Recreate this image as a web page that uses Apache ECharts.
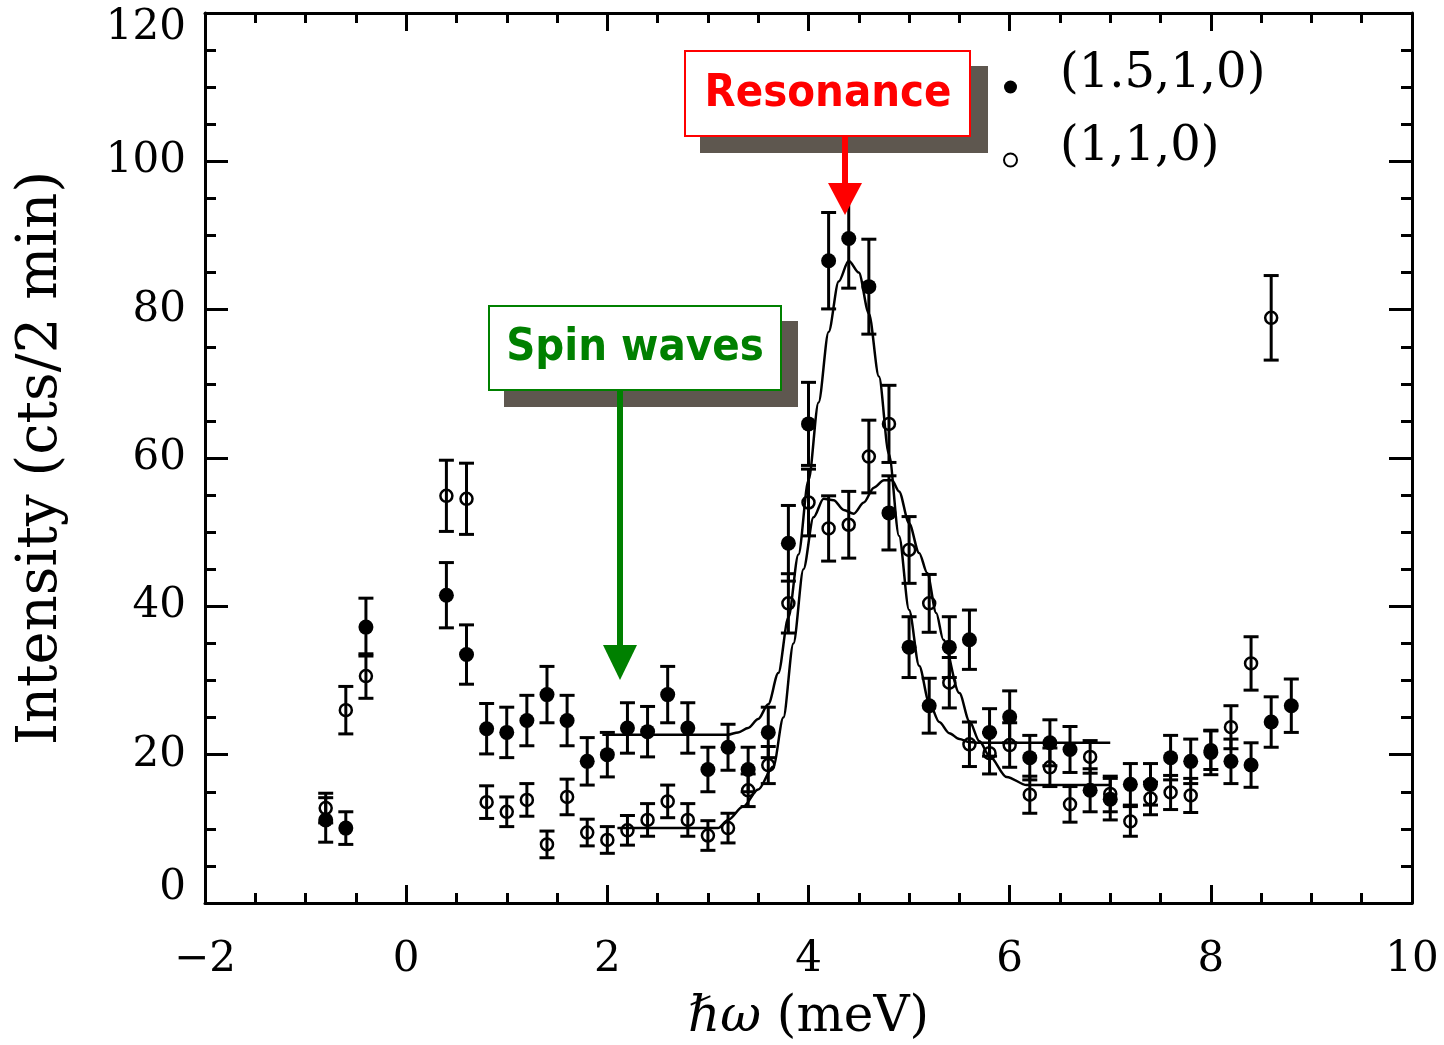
<!DOCTYPE html>
<html><head><meta charset="utf-8">
<script src="https://cdn.jsdelivr.net/npm/echarts@6/dist/echarts.min.js"></script>
<style>html,body{margin:0;padding:0;background:#fff}#c{width:1444px;height:1045px}</style>
</head><body><div id="c"></div>
<script>
// Energy transfer (meV) of measured points
const energies = [-0.8,-0.6,-0.4,0.4,0.6,
  0.8,1.0,1.2,1.4,1.6,1.8,2.0,2.2,2.4,2.6,2.8,3.0,3.2,3.4,3.6,
  3.8,4.0,4.2,4.4,4.6,4.8,5.0,5.2,5.4,5.6,
  5.8,6.0,6.2,6.4,6.6,6.8,7.0,7.2,7.4,7.6,7.8,8.0,8.2,8.4,8.6,8.8];
// (1.5,1,0) filled symbols
const filledY = [11.2,10.1,37.2,41.5,33.5,
  23.5,23.0,24.6,28.1,24.6,19.1,20.0,23.6,23.1,28.1,23.6,18.0,21.0,18.0,23.0,
  48.5,64.6,86.6,89.6,83.1,52.6,34.5,26.6,34.5,35.5,
  23.0,25.1,19.6,21.6,20.7,15.2,14.0,16.0,16.0,19.6,19.1,20.3,19.1,18.6,24.4,26.6];
const filledErr = [3.0,2.2,3.9,4.4,4.0,
  3.4,3.4,3.4,3.8,3.4,3.2,3.0,3.4,3.4,3.8,3.4,3.0,3.1,3.0,3.4,
  5.1,5.6,6.5,6.7,6.4,5.0,4.1,3.7,4.1,4.0,
  3.2,3.5,3.0,3.1,3.1,2.9,2.8,2.8,2.8,3.0,3.0,3.0,3.0,3.0,3.4,3.6];
// (1,1,0) open symbols
const openY = [12.8,26.0,30.6,54.9,54.5,
  13.6,12.3,13.9,7.9,14.3,9.5,8.5,9.8,11.2,13.7,11.2,9.1,10.1,15.2,18.6,
  40.4,54.0,50.5,51.0,60.2,64.6,47.6,40.4,29.7,21.4,
  20.2,21.3,14.6,18.3,13.3,19.7,14.7,11.0,14.1,14.9,14.5,20.6,23.7,32.3,78.9,null];
const openErr = [2.0,3.2,3.0,4.8,4.8,
  2.2,2.0,2.2,1.8,2.4,1.8,1.8,2.0,2.2,2.2,2.2,2.0,2.0,2.2,2.5,
  4.0,4.5,4.4,4.5,4.9,5.2,4.5,3.9,3.4,3.0,
  2.8,3.0,2.5,2.6,2.4,2.2,2.4,2.0,2.2,2.3,2.3,2.6,2.9,3.6,5.7,null];
// fitted curves
const filledFitX = [1.95,3.2,3.3,3.4,3.5,3.6,3.7,3.8,3.9,4.0,4.1,4.2,4.3,4.4,4.5,4.6,4.7,4.8,4.9,5.0,5.1,5.2,5.3,5.4,5.5,5.6,5.7,7.0];
const filledFitY = [22.7,22.7,23.0,23.6,24.8,26.8,31.0,38.5,47.0,57.0,67.5,77.0,83.8,86.6,85.0,79.5,71.0,60.5,49.5,39.5,32.0,27.0,24.4,22.9,22.1,21.7,21.6,21.6];
const openFitX = [2.1,3.1,3.2,3.35,3.5,3.65,3.75,3.85,3.95,4.05,4.15,4.25,4.35,4.45,4.55,4.65,4.75,4.83,4.9,5.0,5.1,5.18,5.27,5.34,5.5,5.6,5.7,5.8,5.97,6.17,7.0];
const openFitY = [10.1,10.1,11.2,13.0,15.3,18.4,25.0,35.0,45.0,52.0,54.5,54.3,53.0,52.5,54.0,56.0,57.0,57.0,55.5,51.2,47.2,44.5,39.1,35.5,28.3,24.5,21.8,19.8,17.0,15.9,15.9];
const seriesNames = ['(1.5,1,0)', '(1,1,0)'];
const xRange = [-2, 10, 2];
const yRange = [0, 120, 20];
const xTitle = '{it|ℏω} (meV)';
const yTitle = 'Intensity (cts/2 min)';
const annotations = ['Resonance', 'Spin waves'];

const zip = (xs, ys) => xs.map((x, i) => [x, ys[i]]);
const withErr = (ys, es) => energies.map((x, i) => ys[i] == null ? null : [x, ys[i], es[i]]).filter(Boolean);

function renderErr(params, api) {
  const x = api.value(0), y = api.value(1), e = api.value(2);
  const t = api.coord([x, y + e]), b = api.coord([x, y - e]);
  const hw = 7.5;
  const st = { stroke: '#000', lineWidth: 3 };
  return { type: 'group', children: [
    { type: 'line', shape: { x1: t[0], y1: t[1], x2: b[0], y2: b[1] }, style: st },
    { type: 'line', shape: { x1: t[0] - hw, y1: t[1], x2: t[0] + hw, y2: t[1] }, style: st },
    { type: 'line', shape: { x1: b[0] - hw, y1: b[1], x2: b[0] + hw, y2: b[1] }, style: st }
  ]};
}

const serif = 'DejaVu Serif';
const axisCommon = (isX, showLabels, pos) => ({
  type: 'value', position: pos,
  min: isX ? xRange[0] : yRange[0], max: isX ? xRange[1] : yRange[1], interval: isX ? xRange[2] : yRange[2],
  axisLine: { show: true, onZero: false, lineStyle: { color: '#000', width: 3 } },
  axisTick: { show: true, inside: true, length: isX ? 18 : 23, lineStyle: { color: '#000', width: 3 } },
  minorTick: { show: true, splitNumber: 4, length: isX ? 10 : 11, lineStyle: { color: '#000', width: 3 } },
  splitLine: { show: false },
  axisLabel: showLabels ? (isX ? {
    show: true, margin: 36, fontFamily: serif, fontSize: 42, color: '#000',
    formatter: v => v < 0 ? '\u2212' + Math.abs(v) : String(v)
  } : {
    show: true, margin: 19, fontFamily: serif, fontSize: 42, color: '#000',
    showMinLabel: false, showMaxLabel: false
  }) : { show: false }
});
// label-only axes that keep the end labels inside the frame
const endLabelAxis = (which) => ({
  type: 'value', position: 'left',
  min: yRange[0], max: yRange[1], interval: yRange[2],
  axisLine: { show: false, onZero: false }, axisTick: { show: false }, minorTick: { show: false }, splitLine: { show: false },
  axisLabel: { show: true, margin: 19, fontFamily: serif, fontSize: 42, color: '#000', lineHeight: 30,
    verticalAlign: which === 'min' ? 'bottom' : 'top',
    formatter: v => (which === 'min' ? v === yRange[0] : v === yRange[1]) ? String(v) : '' }
});

const chart = echarts.init(document.getElementById('c'), null, { renderer: 'canvas' });
const xMain = Object.assign(axisCommon(true, true, 'bottom'), {
  name: xTitle, nameLocation: 'middle', nameGap: 90,
  nameTextStyle: { fontFamily: serif, fontSize: 50, color: '#000',
    rich: { it: { fontFamily: serif, fontSize: 50, fontStyle: 'italic', color: '#000' } } }
});
const yMain = Object.assign(axisCommon(false, true, 'left'), {
  name: yTitle, nameLocation: 'middle', nameGap: 136, nameRotate: 90,
  nameTextStyle: { fontFamily: serif, fontSize: 56, color: '#000' }
});

chart.setOption({
  animation: false,
  backgroundColor: '#fff',
  grid: { left: 205, right: 32, top: 13, bottom: 142, outerBoundsMode: 'none', containLabel: false },
  xAxis: [xMain, axisCommon(true, false, 'top')],
  yAxis: [yMain, axisCommon(false, false, 'right'), endLabelAxis('min'), endLabelAxis('max')],
  legend: {
    data: seriesNames, orient: 'vertical', left: 1003, top: 51, padding: 0,
    itemWidth: 13, itemHeight: 13, itemGap: 2, selectedMode: false,
    formatter: n => n + '\n{s|}',
    textStyle: { fontFamily: serif, fontSize: 48, color: '#000', lineHeight: 46, padding: [0, 0, 0, 38],
      rich: { s: { lineHeight: 24, fontSize: 10 } } }
  },
  series: [
    { type: 'line', data: zip(filledFitX, filledFitY), showSymbol: false, smooth: 0.3, smoothMonotone: 'x',
      lineStyle: { color: '#000', width: 2.5 }, z: 2, silent: true },
    { type: 'line', data: zip(openFitX, openFitY), showSymbol: false, smooth: 0.3, smoothMonotone: 'x',
      lineStyle: { color: '#000', width: 2.5 }, z: 2, silent: true },
    { type: 'custom', renderItem: renderErr, data: withErr(filledY, filledErr), encode: { x: 0, y: 1 }, z: 3 },
    { type: 'custom', renderItem: renderErr, data: withErr(openY, openErr), encode: { x: 0, y: 1 }, z: 3 },
    { name: seriesNames[0], type: 'scatter', data: withErr(filledY, filledErr).map(d => [d[0], d[1]]),
      symbol: 'circle', symbolSize: 15, itemStyle: { color: '#000', opacity: 1 }, z: 5 },
    { name: seriesNames[1], type: 'scatter', data: withErr(openY, openErr).map(d => [d[0], d[1]]),
      symbol: 'circle', symbolSize: 12, itemStyle: { color: 'rgba(255,255,255,0)', borderColor: '#000', borderWidth: 2.5, opacity: 1 }, z: 5 }
  ],
  graphic: [
    { type: 'rect', shape: { x: 700, y: 66, width: 288, height: 87 }, style: { fill: '#5e574f' }, z: 100 },
    { type: 'rect', shape: { x: 685, y: 51, width: 285, height: 85 }, style: { fill: '#fff', stroke: '#ff0000', lineWidth: 2 }, z: 101 },
    { type: 'text', x: 828, y: 94, style: { text: annotations[0], fill: '#ff0000', font: 'bold 45px "DejaVu Sans Condensed", "DejaVu Sans", sans-serif', textAlign: 'center', textVerticalAlign: 'middle' }, z: 102 },
    { type: 'rect', shape: { x: 842, y: 136, width: 6, height: 50 }, style: { fill: '#ff0000' }, z: 102 },
    { type: 'polygon', shape: { points: [[828, 183], [862, 183], [845, 215]] }, style: { fill: '#ff0000' }, z: 102 },
    { type: 'rect', shape: { x: 504, y: 321, width: 294, height: 86 }, style: { fill: '#5e574f' }, z: 100 },
    { type: 'rect', shape: { x: 489, y: 306, width: 292, height: 84 }, style: { fill: '#fff', stroke: '#008000', lineWidth: 2 }, z: 101 },
    { type: 'text', x: 635, y: 348, style: { text: annotations[1], fill: '#008000', font: 'bold 45px "DejaVu Sans Condensed", "DejaVu Sans", sans-serif', textAlign: 'center', textVerticalAlign: 'middle' }, z: 102 },
    { type: 'rect', shape: { x: 617, y: 390, width: 6, height: 258 }, style: { fill: '#008000' }, z: 102 },
    { type: 'polygon', shape: { points: [[603, 645], [637, 645], [620, 680]] }, style: { fill: '#008000' }, z: 102 }
  ]
});
</script></body></html>
